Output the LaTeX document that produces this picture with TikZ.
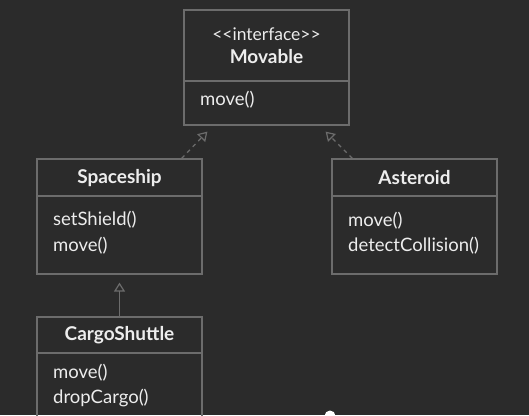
\documentclass[tikz,border=0pt]{standalone}
\usepackage{fontspec}
\setmainfont{Lato}
\usetikzlibrary{arrows.meta,calc}
\definecolor{bg}{HTML}{2B2B2B}
\definecolor{ln}{HTML}{6C6C6C}
\definecolor{tx}{HTML}{EDEDED}
\tikzset{
  classbox/.style={draw=ln, line width=1.2pt, minimum width=165pt, minimum height=115pt, inner sep=0pt},
  divider/.style={draw=ln, line width=1.2pt},
  title/.style={text=tx, font=\fontsize{19}{22}\selectfont\bfseries, inner sep=0pt, anchor=center},
  stereo/.style={text=tx, font=\fontsize{17.5}{20}\selectfont, inner sep=0pt, anchor=center},
  member/.style={text=tx, font=\fontsize{18.5}{21}\selectfont, inner sep=0pt, anchor=west},
  realize/.style={draw=ln, line width=1.2pt, dash pattern=on 4pt off 4pt, -{Triangle[open, length=9pt, width=11pt]}},
  inherit/.style={draw=ln, line width=1.2pt, -{Triangle[open, length=9pt, width=11pt]}}
}
\begin{document}
\begin{tikzpicture}[x=1pt, y=-1pt]
\fill[bg] (0,0) rectangle (529,415);
\useasboundingbox (0,0) rectangle (529,415);
\begin{scope}
\clip (0,0) rectangle (529,415);
% Movable
\node[classbox] (mov) at (266.5,67.5) {};
\draw[divider] (mov.west |- 0,81) -- (mov.east |- 0,81);
\node[stereo] (movst) at (266.5,34) {{<}{<}interface{>}{>}};
\node[title] (movt) at (266.5,57) {Movable};
\node[member] (movm1) at (200,100) {move()};
% Spaceship
\node[classbox] (sp) at (119.5,216.5) {};
\draw[divider] (sp.west |- 0,196) -- (sp.east |- 0,196);
\node[title] (spt) at (119.5,178) {Spaceship};
\node[member] (spm1) at (53,220) {setShield()};
\node[member] (spm2) at (53,246) {move()};
% Asteroid
\node[classbox] (as) at (414.5,216.5) {};
\draw[divider] (as.west |- 0,196) -- (as.east |- 0,196);
\node[title] (ast) at (414.5,178) {Asteroid};
\node[member] (asm1) at (348,221) {move()};
\node[member] (asm2) at (348,246) {detectCollision()};
% CargoShuttle
\node[classbox] (cs) at (119.5,374.5) {};
\draw[divider] (cs.west |- 0,353) -- (cs.east |- 0,353);
\node[title] (cst) at (119.5,335) {CargoShuttle};
\node[member] (csm1) at (53,373) {move()};
\node[member] (csm2) at (53,398) {dropCargo()};
% connectors
\draw[realize] ($(sp.north east)+(-21,0)$) -- ($(mov.south west)+(24,6)$);
\draw[realize] ($(as.north west)+(21,0)$) -- ($(mov.south east)+(-24,6)$);
\draw[inherit] (cs.north) -- ($(sp.south)+(0,8)$);
% progress dot
\fill[white] (330,416) circle (5.5);
\end{scope}
\end{tikzpicture}
\end{document}
